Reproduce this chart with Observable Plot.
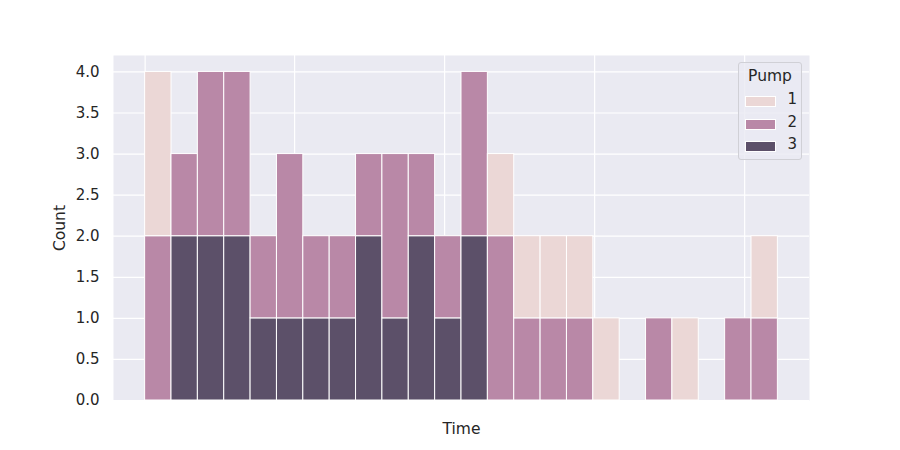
<!DOCTYPE html>
<html>
<head>
<meta charset="utf-8">
<script src="https://cdn.jsdelivr.net/npm/d3@7"></script>
<script src="https://cdn.jsdelivr.net/npm/@observablehq/plot@0.6"></script>
<style>
  body { margin: 0; background: #fff; font-family: "DejaVu Sans", sans-serif; }
  #wrap { position: relative; width: 900px; height: 450px; }
  #legend { position: absolute; left: 738px; top: 62px; width: 62px; height: 96px;
    border: 1px solid #d0d0d6; border-radius: 3px; background: rgba(234,234,242,0.8);
    color: #262626; box-sizing: content-box; }
  #legend .title { position: absolute; top: 4px; left: 0; width: 100%; text-align: center; font-size: 15.5px; }
  #legend .row { position: absolute; left: 6px; width: 52px; height: 14px; }
  #legend .sw { position: absolute; left: 0; top: 2px; width: 29px; height: 9px; border: 0.5px solid #fff; }
  #legend .lab { position: absolute; right: 0; top: -4px; font-size: 15px; }
</style>
</head>
<body>
<div id="wrap"></div>
<script>
// Histogram bins (index along Time), counts per pump, stacked (3 bottom, then 2, then 1)
const bins = d3.range(24);
const pump1 = [2,0,0,0,0,0,0,0,0,0,0,0,0,1,1,1,1,1,0,0,1,0,0,1];
const pump2 = [2,1,2,2,1,2,1,1,1,2,1,1,2,2,1,1,1,0,0,1,0,0,1,1];
const pump3 = [0,2,2,2,1,1,1,1,2,1,2,1,2,0,0,0,0,0,0,0,0,0,0,0];
const pumps = [1, 2, 3];
const pumpColors = ["#ebd7d6", "#b988a7", "#5c5069"];
const yTicks = [0, 0.5, 1, 1.5, 2, 2.5, 3, 3.5, 4];
const xGridTicks = [0, 5.67, 11.36, 17.05, 22.74];

const series = {1: pump1, 2: pump2, 3: pump3};
const rows = [];
for (const b of bins) {
  for (const p of [3, 2, 1]) {
    const c = series[p][b];
    if (c > 0) rows.push({x1: b, x2: b + 1, count: c, pump: p});
  }
}

const chart = Plot.plot({
  width: 900,
  height: 450,
  marginTop: 55,
  marginBottom: 50,
  marginLeft: 113,
  marginRight: 91,
  style: {fontFamily: "DejaVu Sans, sans-serif", fontSize: "15px", color: "#262626", background: "transparent"},
  x: {domain: [-1.2, 25.2]},
  y: {domain: [0, 4.2]},
  color: {domain: pumps, range: pumpColors},
  marks: [
    Plot.frame({fill: "#eaeaf2", stroke: null}),
    Plot.gridX(xGridTicks, {stroke: "#fff", strokeOpacity: 1, strokeWidth: 1.2}),
    Plot.gridY(yTicks, {stroke: "#fff", strokeOpacity: 1, strokeWidth: 1.2}),
    Plot.rectY(rows, Plot.stackY({x1: "x1", x2: "x2", y: "count", fill: "pump", order: null,
      stroke: "#fff", strokeWidth: 1})),
    Plot.axisY(yTicks, {tickSize: 0, tickPadding: 14, tickFormat: d3.format(".1f"),
      fontSize: 15, label: "Count", labelAnchor: "center", labelOffset: 60, labelArrow: "none"}),
    Plot.axisX(xGridTicks, {tickSize: 0, tickFormat: () => "", label: "Time",
      labelAnchor: "center", labelOffset: 33, labelArrow: "none"})
  ]
});
chart.querySelectorAll("[aria-label='y-axis label'] text, [aria-label='x-axis label'] text").forEach(t => t.setAttribute("font-size", "15.5px"));
document.getElementById("wrap").appendChild(chart);

// Legend
const leg = d3.select("#wrap").append("div").attr("id", "legend");
leg.append("div").attr("class", "title").text("Pump");
pumps.forEach((p, i) => {
  const row = leg.append("div").attr("class", "row").style("top", (31 + i * 22.7) + "px");
  row.append("div").attr("class", "sw").style("background", pumpColors[i]);
  row.append("div").attr("class", "lab").text(String(p));
});
</script>
</body>
</html>
